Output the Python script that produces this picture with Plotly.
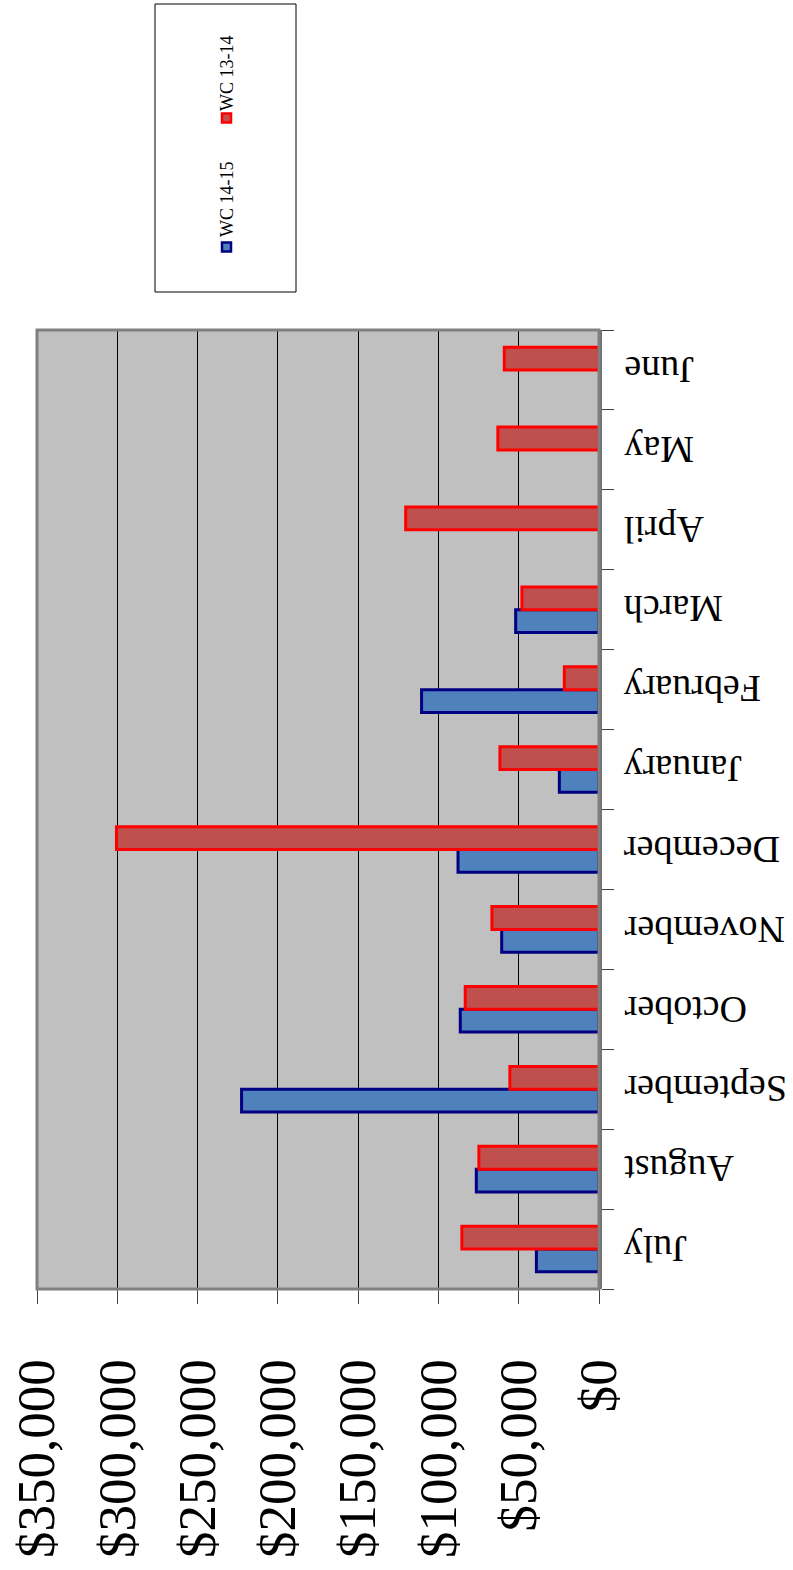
import plotly.graph_objects as go

# Monthly working-capital figures by fiscal year
months = ["July", "August", "September", "October", "November", "December",
          "January", "February", "March", "April", "May", "June"]
wc_14_15 = [39000, 76400, 222600, 86400, 60600, 87800,
            24700, 110500, 51900, None, None, None]
wc_13_14 = [85400, 74800, 55500, 83300, 66700, 300500,
            61700, 21600, 48000, 120400, 63000, 59000]

tick_values = [0, 50000, 100000, 150000, 200000, 250000, 300000, 350000]
tick_labels = ["$0", "$50,000", "$100,000", "$150,000", "$200,000",
               "$250,000", "$300,000", "$350,000"]

W, H = 793, 1570
L, R, T, B = 37, 194, 330, 281
PW, PH = W - L - R, H - T - B

SERIF = "Liberation Serif, Times New Roman, serif"


def px_x(x):
    return (x - L) / PW


def px_y(y):
    return (H - B - y) / PH


fig = go.Figure()
fig.add_trace(go.Bar(
    y=months, x=wc_14_15, orientation="h", name="WC 14-15",
    marker=dict(color="#4F81BD", line=dict(color="#000080", width=3)),
    showlegend=False,
))
fig.add_trace(go.Bar(
    y=months, x=wc_13_14, orientation="h", name="WC 13-14",
    marker=dict(color="#C0504D", line=dict(color="#FF0000", width=3)),
    showlegend=False,
))

fig.update_layout(
    width=W, height=H,
    margin=dict(l=L, r=R, t=T, b=B, pad=0, autoexpand=False),
    paper_bgcolor="white",
    plot_bgcolor="#C0C0C0",
    barmode="group",
    bargap=0.43,
    bargroupgap=0,
    font=dict(family=SERIF, color="black"),
)

fig.update_xaxes(
    range=[350000, 0],
    tickvals=tick_values, ticktext=tick_labels,
    tickangle=-90,
    tickfont=dict(family=SERIF, size=53, color="black"),
    ticks="outside", ticklen=14, tickwidth=1, tickcolor="#404040",
    ticklabelstandoff=34,
    showgrid=True, gridcolor="black", gridwidth=1,
    zeroline=False,
    showline=False,
    automargin=False,
)

fig.update_yaxes(
    side="right",
    showticklabels=False,
    ticks="outside", ticklen=12, tickwidth=1, tickcolor="#404040",
    tickson="boundaries",
    showgrid=False,
    showline=True, linecolor="#707070", linewidth=3,
    automargin=False,
)

# Upside-down month labels to the right of the value axis
for m in months:
    fig.add_annotation(xref="paper", yref="y", x=px_x(622), y=m,
                       text=m, textangle=180, showarrow=False,
                       xanchor="left", yanchor="middle",
                       font=dict(family=SERIF, size=38, color="black"))

# Plot-area frame
fig.add_shape(type="rect", xref="paper", yref="paper", x0=0, x1=1, y0=0, y1=1,
              line=dict(color="#808080", width=3), fillcolor="rgba(0,0,0,0)",
              layer="above")

# Legend box with rotated entries
fig.add_shape(type="rect", xref="paper", yref="paper",
              x0=px_x(155), x1=px_x(296), y0=px_y(292), y1=px_y(4),
              line=dict(color="black", width=1), fillcolor="white")

legend_items = [("WC 14-15", "#4F81BD", "#000080", 247, 199),
                ("WC 13-14", "#C0504D", "#FF0000", 118, 73)]
for label, fill, edge, sq_y, txt_y in legend_items:
    fig.add_shape(type="rect", xref="paper", yref="paper",
                  x0=px_x(222), x1=px_x(231), y0=px_y(sq_y + 4.5), y1=px_y(sq_y - 4.5),
                  line=dict(color=edge, width=2.5), fillcolor=fill)
    fig.add_annotation(xref="paper", yref="paper", x=px_x(227), y=px_y(txt_y),
                       text=label, textangle=-90, showarrow=False,
                       xanchor="center", yanchor="middle",
                       font=dict(family=SERIF, size=18, color="black"))

fig.write_html("out.html")
